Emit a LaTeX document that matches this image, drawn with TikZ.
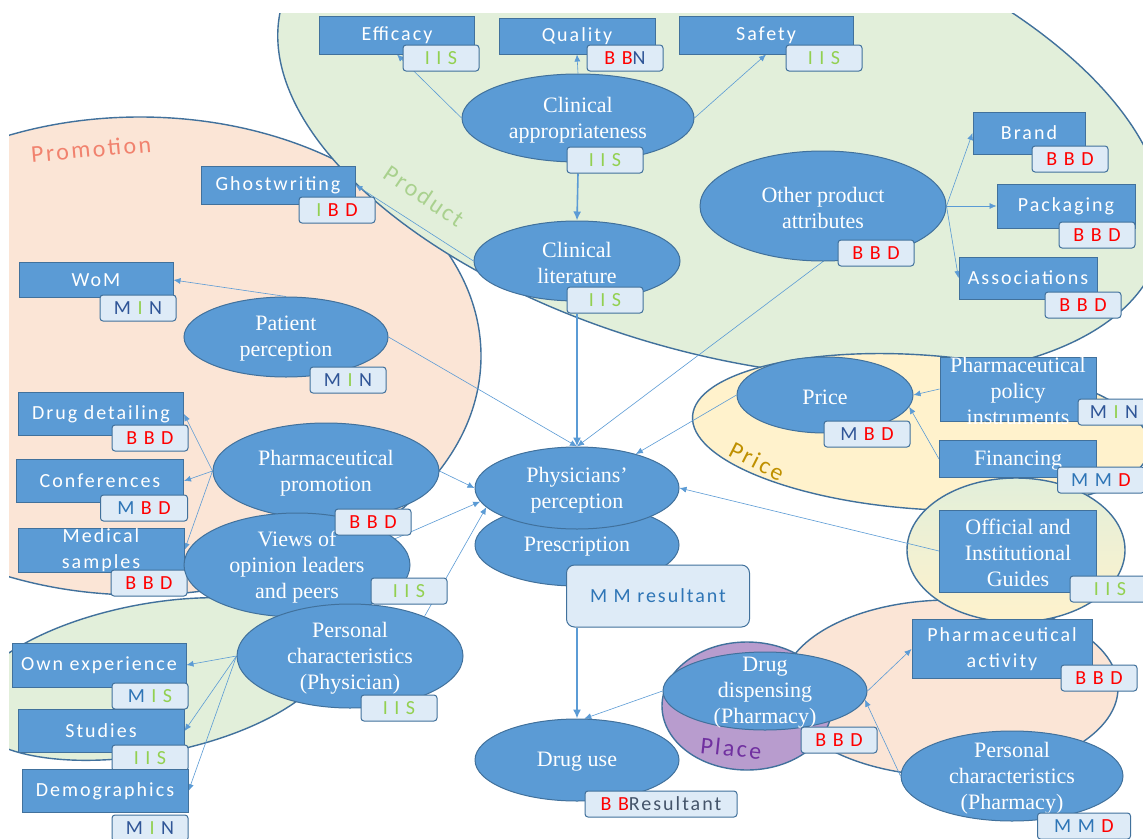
\documentclass[tikz,border=0pt]{standalone}
\usepackage{fontspec}
\setmainfont{Liberation Serif}
\newfontfamily\sansbox[LetterSpace=10]{Carlito}
\usetikzlibrary{shapes.geometric, arrows.meta}

\definecolor{edgeblue}{HTML}{41719C}
\definecolor{nodeblue}{HTML}{5B9BD5}
\definecolor{tagfill}{HTML}{DEEBF7}
\definecolor{prodgreen}{HTML}{E2EFDA}
\definecolor{promopeach}{HTML}{FBE5D6}
\definecolor{priceyellow}{HTML}{FFF2CC}
\definecolor{placepurple}{HTML}{B89CCE}
\definecolor{promotext}{HTML}{F1826E}
\definecolor{prodtext}{HTML}{A9D18E}
\definecolor{pricetext}{HTML}{BF9000}
\definecolor{placetext}{HTML}{7030A0}
\definecolor{letB}{HTML}{FF0000}
\definecolor{letI}{HTML}{92D050}
\definecolor{letM}{HTML}{2E75B6}
\definecolor{letN}{HTML}{2F5597}
\definecolor{resgray}{HTML}{44546A}

\newcommand{\tagR}[1]{\textcolor{letB}{#1}}
\newcommand{\tagG}[1]{\textcolor{letI}{#1}}
\newcommand{\tagM}[1]{\textcolor{letM}{#1}}
\newcommand{\tagN}[1]{\textcolor{letN}{#1}}

\pgfdeclarelayer{regions}
\pgfdeclarelayer{links}
\pgfsetlayers{regions,links,main}

\begin{document}
\begin{tikzpicture}[x=1pt, y=-1pt,
    region/.style={draw=edgeblue, line width=1.4pt},
    regionlbl/.style={font=\sansbox\fontsize{24}{28}\selectfont},
    blobtext/.style={font=\fontsize{22}{26}\selectfont, text=white, align=center, yshift=-2pt},
    cardtext/.style={font=\sansbox\fontsize{20}{26}\selectfont, text=white, align=center},
    blob/.style={ellipse, draw=edgeblue, fill=nodeblue, line width=1pt, inner sep=0pt,
        label={[blobtext]center:#1}},
    card/.style={rectangle, draw=edgeblue, fill=nodeblue, line width=1pt, inner sep=0pt,
        label={[cardtext]center:#1}},
    scard/.style={rectangle, draw=edgeblue, fill=nodeblue, line width=1pt, inner sep=0pt,
        label={[blobtext]center:#1}},
    tag/.style={rectangle, rounded corners=3pt, draw=edgeblue, fill=tagfill, line width=1pt,
        inner sep=0pt, minimum width=76, minimum height=26, font=\sansbox\fontsize{20}{24}\selectfont},
    link/.style={draw=nodeblue, line width=0.6pt, -{Latex[length=7pt,width=6pt]}},
    flow/.style={draw=nodeblue, line width=1.6pt, -{Latex[length=9pt,width=8pt]}}
]
    \useasboundingbox (0,0) rectangle (1143,838);

    % the four P's
    \begin{pgfonlayer}{regions}
        \fill[white] (0,0) rectangle (1143,838);
        \begin{scope}
            \clip (9,13) rectangle (1143,838);
            \draw[region, fill=promopeach] (140,356) ellipse [x radius=341pt, y radius=239pt];
            \draw[region, fill=prodgreen, rotate around={-15.7:(721,127.5)}]
                (721,127.5) ellipse [x radius=456pt, y radius=226pt];
            \draw[region, fill=priceyellow, rotate around={-4:(921,432)}]
                (921,432) ellipse [x radius=229pt, y radius=77pt];
            \draw[region, fill=promopeach] (950,688) ellipse [x radius=168pt, y radius=88pt];
            \draw[region, top color=prodgreen, bottom color=priceyellow]
                (1016,550) ellipse [x radius=109pt, y radius=72pt];
            \draw[region, fill=prodgreen, rotate around={10.7:(150,679)}]
                (150,679) ellipse [x radius=185pt, y radius=75pt];
            \draw[region, fill=placepurple] (747,706) ellipse [x radius=85pt, y radius=64pt];
        \end{scope}
        \node[regionlbl, text=promotext, rotate=5] (promolbl) at (91,149) {Promotion};
        \node[regionlbl, text=prodtext, rotate=-34] (prodlbl) at (424,196) {Product};
        \node[regionlbl, text=pricetext, rotate=-27] (pricelbl) at (757,461) {Price};
        \node[regionlbl, text=placetext, rotate=-6] (placelbl) at (731,748) {Place};
    \end{pgfonlayer}

    % product
    \node[card=Efficacy, minimum width=155, minimum height=38] (efficacy) at (397,35) {};
    \node[tag] (t-efficacy) at (441,58) {\tagG{I} \tagG{I} \tagG{S}};
    \node[card=Quality, minimum width=156, minimum height=36] (quality) at (577,36) {};
    \node[tag] (t-quality) at (625,58) {\tagR{B} \tagR{B}\tagN{N}};
    \node[card=Safety, minimum width=174, minimum height=38] (safety) at (766,35) {};
    \node[tag] (t-safety) at (824,58) {\tagG{I} \tagG{I} \tagG{S}};
    \node[blob={Clinical\\appropriateness}, minimum width=232, minimum height=88] (clinapp) at (578,118) {};
    \node[tag] (t-clinapp) at (605,160) {\tagG{I} \tagG{I} \tagG{S}};
    \node[blob={Clinical\\literature}, minimum width=206, minimum height=80] (clinlit) at (577,261) {};
    \node[tag] (t-clinlit) at (605,300) {\tagG{I} \tagG{I} \tagG{S}};
    \node[blob={Other product\\attributes}, minimum width=246, minimum height=110] (otherattr) at (823,206) {};
    \node[tag] (t-otherattr) at (876,253) {\tagR{B B D}};
    \node[card=Brand, minimum width=112, minimum height=42] (brand) at (1029,133) {};
    \node[tag] (t-brand) at (1070,159) {\tagR{B B D}};
    \node[card=Packaging, minimum width=138, minimum height=44] (packaging) at (1066,206) {};
    \node[tag] (t-packaging) at (1097,235) {\tagR{B B D}};
    \node[card=Associations, minimum width=138, minimum height=42] (assoc) at (1028,278) {};
    \node[tag] (t-assoc) at (1083,305) {\tagR{B B D}};

    % promotion
    \node[card=Ghostwriting, minimum width=154, minimum height=38] (ghost) at (278,185) {};
    \node[tag] (t-ghost) at (337,210) {\tagG{I} \tagR{B D}};
    \node[card=WoM, minimum width=154, minimum height=35] (wom) at (96,280) {};
    \node[tag] (t-wom) at (138,308) {\tagN{M} \tagG{I} \tagN{N}};
    \node[blob={Patient\\perception}, minimum width=204, minimum height=80] (patient) at (286,337) {};
    \node[tag] (t-patient) at (348,380) {\tagN{M} \tagG{I} \tagN{N}};
    \node[card=Drug detailing, minimum width=165, minimum height=43] (detailing) at (101,414) {};
    \node[tag] (t-detailing) at (150,438) {\tagR{B B D}};
    \node[card=Conferences, minimum width=167, minimum height=43] (confs) at (100,481) {};
    \node[tag, minimum width=87] (t-confs) at (144,508) {\tagM{M} \tagR{B D}};
    \node[card={Medical\\samples}, minimum width=166, minimum height=44] (samples) at (101,550) {};
    \node[tag] (t-samples) at (149,583) {\tagR{B B D}};
    \node[blob={Pharmaceutical\\promotion}, minimum width=226, minimum height=96] (pharmprom) at (326,471) {};
    \node[blob={Views of\\opinion leaders\\and peers}, minimum width=226, minimum height=104] (views) at (297,565) {};
    \node[blob={Personal\\characteristics\\(Physician)}, minimum width=226, minimum height=104] (persphys) at (350,656) {};
    \node[tag] (t-pharmprom) at (373,522) {\tagR{B B D}};
    \node[tag] (t-views) at (409,591) {\tagG{I} \tagG{I} \tagG{S}};
    \node[tag] (t-persphys) at (399,708) {\tagG{I} \tagG{I} \tagG{S}};
    \node[card=Own experience, minimum width=174, minimum height=44] (ownexp) at (99,665) {};
    \node[tag] (t-ownexp) at (150,696) {\tagM{M} \tagG{I} \tagG{S}};
    \node[card=Studies, minimum width=166, minimum height=43] (studies) at (101,731) {};
    \node[tag] (t-studies) at (150,758) {\tagG{I} \tagG{I} \tagG{S}};
    \node[card=Demographics, minimum width=166, minimum height=43] (demog) at (105,791) {};
    \node[tag] (t-demog) at (150,828) {\tagN{M} \tagG{I} \tagN{N}};

    % centre
    \node[blob=Prescription, minimum width=204, minimum height=82] (prescr) at (577,545) {};
    \node[blob={Physicians’\\perception}, minimum width=204, minimum height=82] (physperc) at (577,488) {};
    \node[tag, minimum width=183, minimum height=62, rounded corners=8pt] (t-prescr) at (658,596) {\tagM{M M resultant}};
    \node[blob={Drug use}, minimum width=204, minimum height=82] (druguse) at (577,760) {};
    \node[tag, minimum width=152] (t-druguse) at (661,804) {\tagR{B B}\textcolor{resgray}{Resultant}};

    % price
    \node[blob=Price, minimum width=176, minimum height=76] (price) at (825,395) {};
    \node[tag, minimum width=86] (t-price) at (867,434) {\tagN{M} \tagR{B D}};
    \node[scard={Pharmaceutical\\policy\\instruments}, minimum width=156, minimum height=64] (policy) at (1018,389) {};
    \node[tag, minimum width=72] (t-policy) at (1114,412) {\tagN{M} \tagG{I} \tagN{N}};
    \node[scard=Financing, minimum width=157, minimum height=37] (financing) at (1018,459) {};
    \node[tag, minimum width=87] (t-financing) at (1101,480) {\tagM{M M} \tagR{D}};
    \node[scard={Official and\\Institutional\\Guides}, minimum width=157, minimum height=82] (guides) at (1018,551) {};
    \node[tag, minimum width=80] (t-guides) at (1110,589) {\tagG{I} \tagG{I} \tagG{S}};

    % place
    \node[blob={Drug\\dispensing\\(Pharmacy)}, minimum width=204, minimum height=78] (dispense) at (765,691) {};
    \node[tag] (t-dispense) at (839,740) {\tagR{B B D}};
    \node[card={Pharmaceutical\\activity}, minimum width=180, minimum height=59] (pharmact) at (1002,649) {};
    \node[tag] (t-pharmact) at (1099,678) {\tagR{B B D}};
    \node[blob={Personal\\characteristics\\(Pharmacy)}, minimum width=222, minimum height=90] (perspharm) at (1012,776) {};
    \node[tag, minimum width=93] (t-perspharm) at (1084,826) {\tagM{M M} \tagR{D}};

    % connectors
    \begin{pgfonlayer}{links}
        \draw[link] (clinapp.west) -- (efficacy.south);
        \draw[link] (clinapp.north) -- (quality.south);
        \draw[link] (clinapp.east) -- (safety.south);
        \draw[flow] (clinapp.south |- t-clinapp.south) -- (clinlit.north);
        \draw[flow] (clinlit.south |- t-clinlit.south) -- (physperc.north);
        \foreach \b in {brand, packaging, assoc}
            \draw[link] (otherattr.east) -- (\b.west);
        \draw[link] (otherattr.south) -- (physperc.north);
        \draw[link] (clinlit.west) -- (ghost.east);
        \draw[link] (patient.north) -- (wom.east);
        \draw[link] (patient.east) -- (physperc.north);
        \foreach \b in {detailing, confs, samples}
            \draw[link] (pharmprom.west) -- (\b.east);
        \draw[link] (pharmprom.east) -- (physperc.west);
        \draw[link] (views.15) -- (physperc.188);
        \draw[link] (persphys.28) -- (physperc.192);
        \foreach \b in {ownexp, studies, demog}
            \draw[link] (persphys.west) -- (\b.east);
        \draw[link] (price.west) -- (physperc.30);
        \draw[link] (policy.west) -- (price.east);
        \draw[link] (financing.west) -- (price.-8);
        \draw[link] (guides.west) -- (physperc.east);
        \draw[flow] (druguse.north |- t-prescr.south) -- (druguse.north);
        \draw[link] (dispense.west) -- (druguse.80);
        \draw[link] (dispense.east) -- (pharmact.west);
        \draw[link] (perspharm.west) -- (dispense.-5);
    \end{pgfonlayer}
\end{tikzpicture}
\end{document}
